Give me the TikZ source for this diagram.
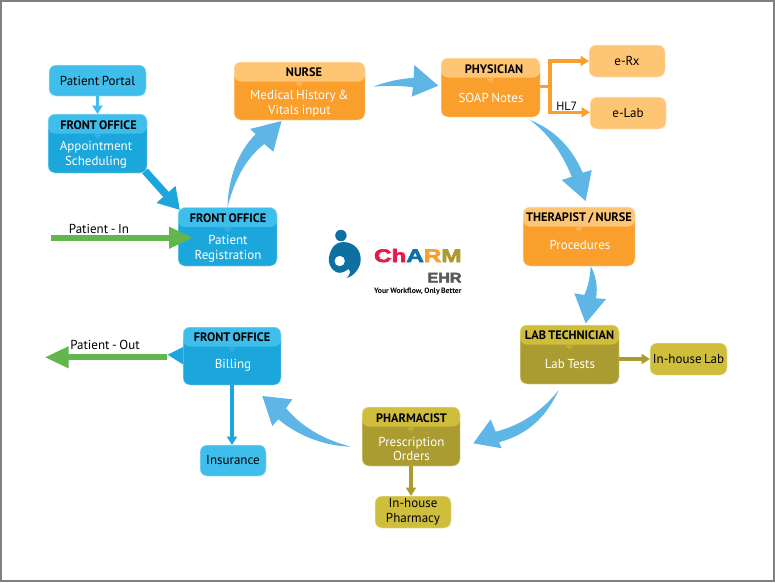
\documentclass[tikz,border=0pt]{standalone}
\usepackage{fontspec}
\setmainfont[WordSpace=0.75]{PT Sans}
\newfontfamily\logofont[BoldFeatures={FakeBold=3}]{Liberation Sans}
\usetikzlibrary{arrows.meta}
\definecolor{bluehead}{HTML}{3FBEEC}
\definecolor{bluebody}{HTML}{1CA7DC}
\definecolor{orangehead}{HTML}{FEC674}
\definecolor{orangebody}{HTML}{FA9E2C}
\definecolor{olivehead}{HTML}{CFBE3C}
\definecolor{olivebody}{HTML}{AA9C30}
\definecolor{flowblue}{HTML}{5DB6E6}
\definecolor{patientgreen}{HTML}{62B64E}
\definecolor{logoblue}{HTML}{0E6FA2}
\definecolor{logored}{HTML}{E31B4A}
\definecolor{logogray}{HTML}{58595B}
\tikzset{
  card/.style 2 args={rectangle,rounded corners=7pt,outer sep=0pt,inner sep=0pt,
    fill=#2,draw=#1!35!white,line width=.5pt,
    path picture={
      \fill[#1] (path picture bounding box.north west) rectangle ([yshift=-19.5pt]path picture bounding box.north east);
      \fill[#1] ([xshift=-4pt,yshift=-19.5pt]path picture bounding box.north) -- ([xshift=4pt,yshift=-19.5pt]path picture bounding box.north) -- ([yshift=-25pt]path picture bounding box.north) -- cycle;
    }},
  leaf/.style={rectangle,rounded corners=7pt,outer sep=0pt,inner sep=0pt,align=center,
    fill=#1,draw=#1!35!white,line width=.5pt,font=\fontsize{13}{14.7}\selectfont},
  role/.style={font=\fontsize{12.3}{14}\selectfont\bfseries,inner sep=0pt},
  task/.style={font=\fontsize{13}{14.7}\selectfont,text=white,align=center,inner sep=0pt,yshift=-1pt},
  tag/.style={font=\fontsize{13}{14}\selectfont,inner sep=0pt},
  link/.style={line width=3.5pt,draw=#1,-{Triangle[length=8.5pt,width=10pt,fill=#1]}},
  flow/.style={fill=flowblue},
  patient/.style={line width=5.7pt,draw=patientgreen,-{Triangle[length=24pt,width=20.5pt,fill=patientgreen]}}
}
\begin{document}
\begin{tikzpicture}[x=1pt,y=-1pt]
\useasboundingbox (0,0) rectangle (775,582);
\draw[line width=2pt,draw=black!50] (1,1) rectangle (774,581);

% front office, way in
\node[leaf=bluehead,minimum width=97pt,minimum height=31pt] (portal) at (97.5,80.5) {Patient Portal};
\node[card={bluehead}{bluebody},minimum width=99pt,minimum height=59pt] (appt) at (97.5,143.5) {};
\node[role] (appthead) at (98.5,124.7) {FRONT OFFICE};
\node[task] (apptbody) at (96,154) {Appointment\\Scheduling};
\node[card={bluehead}{bluebody},minimum width=99pt,minimum height=58.5pt] (reg) at (227.5,236.8) {};
\node[role] (reghead) at (228,218.3) {FRONT OFFICE};
\node[task] (regbody) at (228,247.5) {Patient\\Registration};
\coordinate (in) at (51,237.7);

% nurse and physician
\node[card={orangehead}{orangebody},minimum width=131pt,minimum height=58pt] (nurse) at (299.5,91) {};
\node[role] (nursehead) at (304,72.5) {NURSE};
\node[task] (nursebody) at (299.5,102.7) {Medical History \&\\Vitals input};
\node[card={orangehead}{orangebody},minimum width=99pt,minimum height=59pt] (phys) at (490.5,87.5) {};
\node[role] (physhead) at (494,69.5) {PHYSICIAN};
\node[task] (physbody) at (491,96.7) {SOAP Notes};
\node[leaf=orangehead,minimum width=76pt,minimum height=32pt] (erx) at (627,61) {e-Rx};
\node[leaf=orangehead,minimum width=76pt,minimum height=32pt] (elab) at (628,113) {e-Lab};

% therapist and lab
\node[card={orangehead}{orangebody},minimum width=112pt,minimum height=59pt] (ther) at (579,236.5) {};
\node[role] (therhead) at (579,217.5) {THERAPIST / NURSE};
\node[task] (therbody) at (580,243.5) {Procedures};
\node[card={olivehead}{olivebody},minimum width=99pt,minimum height=59pt] (lab) at (569.5,354.5) {};
\node[role] (labhead) at (569.5,335.5) {LAB TECHNICIAN};
\node[task] (labbody) at (570,363.5) {Lab Tests};
\node[leaf=olivehead,minimum width=77pt,minimum height=32pt] (hlab) at (688.5,359) {In-house Lab};

% pharmacy
\node[card={olivehead}{olivebody},minimum width=98pt,minimum height=59pt] (pharm) at (411,436.5) {};
\node[role] (pharmhead) at (411.5,418.5) {PHARMACIST};
\node[task] (pharmbody) at (411.5,448) {Prescription\\Orders};
\node[leaf=olivehead,minimum width=76pt,minimum height=32pt] (hpharm) at (413,512) {In-house\\Pharmacy};

% billing
\node[card={bluehead}{bluebody},minimum width=98pt,minimum height=58pt] (bill) at (232,356) {};
\node[role] (billhead) at (232,337.5) {FRONT OFFICE};
\node[task] (billbody) at (233,364) {Billing};
\node[leaf=bluehead,minimum width=66pt,minimum height=31pt] (ins) at (233,460.5) {Insurance};
\coordinate (out) at (44.7,357.3);

% small links
\draw[link=bluehead] (portal) -- (appt.north);
\draw[bluebody,line width=7.5pt,-{Triangle[length=21pt,width=24pt,fill=bluebody]}] ([xshift=-2pt,yshift=2pt]appt.south east) -- ([xshift=2pt,yshift=-2.5pt]reg.north west);
\draw[patient] (in) -- ([xshift=15pt,yshift=-.9pt]reg.west);
\node[tag] (intext) at (99,228.7) {Patient - In};
\draw[line width=3.5pt,draw=orangebody] (phys.east) ++(0pt,.8pt) -- ++(10pt,0pt) coordinate (hub);
\draw[link=orangebody] (hub) |- (erx.west);
\draw[link=orangebody] (hub) |- ([yshift=.7pt]elab.west);
\node[inner sep=0pt,font=\fontsize{12}{14}\selectfont] (hl) at (566.7,106) {HL7};
\draw[link=olivebody] (lab.east |- hlab.west) -- (hlab.west);
\draw[link=olivebody] (pharm.south) -- (pharm.south |- hpharm.north);
\draw[link=bluebody] (bill.south) -- (bill.south |- ins.north);
\fill[bluebody] (bill.west) ++(0pt,9pt) -- ++(-15.3pt,-7.7pt) -- ++(15.3pt,-9.7pt) -- cycle;
\draw[patient] ([xshift=-16pt,yshift=-1.3pt]bill.west) -- (out);
\node[tag] (outtext) at (105,344.7) {Patient - Out};

% big curved arrows
\fill[flow] (reg.north) .. controls (228.3,176.7) and (238.3,151.7) .. (255.7,134) -- (250,129) -- ([xshift=-18pt,yshift=-1pt]nurse.south) -- (273.3,151.7) -- (264.3,144) .. controls (248,156.7) and (235,176.7) .. cycle;
\fill[flow] ([xshift=8.3pt,yshift=4.3pt]nurse.east) .. controls (388,81) and (400,79) .. (413.7,77.7) -- (414.3,65) -- ([xshift=-2.7pt,yshift=1.8pt]phys.west) -- (411.7,96.7) -- (413,87.3) .. controls (400,85.5) and (388,85.5) .. cycle;
\fill[flow] ([xshift=39.5pt,yshift=-3pt]phys.south) .. controls (550,135) and (563,155) .. (571.7,176.7) -- (561.7,180) -- ([xshift=6.7pt,yshift=6pt]ther.north) -- (591.7,170) -- (582.7,172.7) .. controls (572,148) and (555,130) .. cycle;
\fill[flow] ([xshift=11.7pt]ther.south) .. controls (590,278) and (588,287) .. (584.3,295) -- (574.3,293.3) -- ([xshift=16.2pt,yshift=1.7pt]lab.north) -- (606,299) -- (596,298.3) .. controls (598,287) and (596,276) .. cycle;
\fill[flow] ([xshift=-10.8pt,yshift=-6pt]lab.south) .. controls (543,410) and (522,425) .. (495.7,431.7) -- (490.7,419.3) -- ([xshift=13.3pt,yshift=-6.8pt]pharm.east) -- (501.7,448.3) -- (499,442.3) .. controls (525,435) and (545,420) .. cycle;
\fill[flow] ([xshift=-11pt,yshift=-10.2pt]pharm.west) .. controls (325,440) and (303,428) .. (286,408.3) -- (292.3,399.3) -- ([xshift=30.3pt,yshift=-11pt]bill.south) -- (272.3,426) -- (278.3,419.3) .. controls (298,436) and (325,446) .. cycle;

% logo
\fill[logoblue] (340.9,235.5) circle (5.7);
\fill[logoblue,even odd rule] (343,242) .. controls (354,242) and (361,250) .. (360.7,260) .. controls (360.5,268) and (354,276) .. (346.7,278) .. controls (350,275) and (351,271) .. (348.5,269) .. controls (345,272) and (340,274) .. (336,272) .. controls (330,269) and (328,262) .. (329,257) .. controls (331,247) and (336,242) .. (343,242) -- cycle (339.7,261) circle (5.3);
\node[inner sep=0pt,anchor=east] (brand) at (461.7,255.5) {\scalebox{1.33}[1]{\logofont\fontsize{18.2}{20}\selectfont\bfseries\textcolor{logored}{Ch}\textcolor{logoblue}{A}\textcolor{orangebody}{R}\textcolor{olivebody}{M}}};
\node[inner sep=0pt,anchor=east] (ehr) at (461.7,277.7) {\scalebox{1.15}[1]{\logofont\fontsize{14}{16}\selectfont\bfseries\textcolor{logogray}{EHR}}};
\node[inner sep=0pt,anchor=east] (motto) at (461.7,291.3) {\fontsize{7.7}{8}\selectfont\bfseries Your Workflow, Only Better};
\end{tikzpicture}
\end{document}
